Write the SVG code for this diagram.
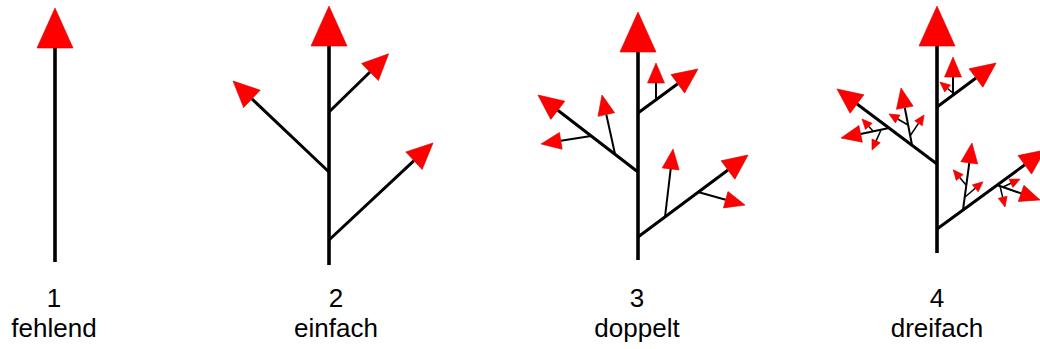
<svg xmlns="http://www.w3.org/2000/svg" width="1040" height="349" viewBox="0 0 1040 349">
<style>
line{stroke:#000;fill:none;stroke-linecap:butt}
.s0{stroke-width:3.6;marker-end:url(#h0)}
.a1{stroke-width:3;marker-end:url(#h1a)}
.b1{stroke-width:3;marker-end:url(#h1)}
.b2{stroke-width:2;marker-end:url(#h2)}
.b3{stroke-width:1.5;marker-end:url(#h3)}
.hd{fill:#ff0000;stroke:#d80000;stroke-width:0.6;stroke-linejoin:miter}
text{font-family:"Liberation Sans",Arial,sans-serif;font-size:26px;fill:#000;text-anchor:middle}
</style>
<defs>
<marker id="h0" markerUnits="userSpaceOnUse" orient="auto" overflow="visible" refX="0" refY="0" markerWidth="1" markerHeight="1"><path class="hd" d="M0,-18 L40,0 L0,18 Z"/></marker>
<marker id="h1a" markerUnits="userSpaceOnUse" orient="auto" overflow="visible" refX="0" refY="0" markerWidth="1" markerHeight="1"><path class="hd" d="M0,-12 L26,0 L0,12 Z"/></marker>
<marker id="h1" markerUnits="userSpaceOnUse" orient="auto" overflow="visible" refX="0" refY="0" markerWidth="1" markerHeight="1"><path class="hd" d="M0,-11.5 L25,0 L0,11.5 Z"/></marker>
<marker id="h2" markerUnits="userSpaceOnUse" orient="auto" overflow="visible" refX="0" refY="0" markerWidth="1" markerHeight="1"><path class="hd" d="M0,-8.5 L20,0 L0,8.5 Z"/></marker>
<marker id="h3" markerUnits="userSpaceOnUse" orient="auto" overflow="visible" refX="0" refY="0" markerWidth="1" markerHeight="1"><path class="hd" d="M0,-4.5 L10,0 L0,4.5 Z"/></marker>
</defs>
<g id="connectors">
<g id="tree1">
<line class="s0" x1="55" y1="262" x2="55" y2="48"/>
</g>
<g id="tree2">
<line class="s0" x1="329" y1="265" x2="329" y2="46"/>
<line class="a1" x1="329" y1="172" x2="251.9" y2="98.9"/>
<line class="a1" x1="329" y1="112" x2="370" y2="72"/>
<line class="a1" x1="329" y1="240" x2="414" y2="160.7"/>
</g>
<g id="tree3">
<line class="s0" x1="638" y1="260" x2="638" y2="52"/>
<line class="b1" x1="638" y1="113" x2="677.8" y2="83.8"/>
<line class="b1" x1="638" y1="172" x2="557.8" y2="110.3"/>
<line class="b1" x1="638" y1="237" x2="728" y2="170"/>
<line class="b2" x1="656" y1="100" x2="656" y2="83"/>
<line class="b2" x1="591" y1="136" x2="560.8" y2="140.8"/>
<line class="b2" x1="615" y1="154" x2="606.3" y2="114.5"/>
<line class="b2" x1="665" y1="217" x2="670.7" y2="168.9"/>
<line class="b2" x1="698" y1="192" x2="725.7" y2="199.7"/>
</g>
<g id="tree4">
<line class="s0" x1="937" y1="253" x2="937" y2="46"/>
<line class="b1" x1="937" y1="107" x2="976" y2="78"/>
<line class="b1" x1="937" y1="164" x2="857" y2="104"/>
<line class="b1" x1="937" y1="229" x2="1024.8" y2="164.8"/>
<line class="b2" x1="953" y1="95" x2="953" y2="77"/>
<line class="b2" x1="912" y1="145" x2="904.8" y2="107.7"/>
<line class="b2" x1="889" y1="128" x2="860.6" y2="133.9"/>
<line class="b2" x1="963" y1="210" x2="969.3" y2="162.8"/>
<line class="b2" x1="997" y1="185" x2="1021.1" y2="193.4"/>
<line class="b3" x1="953" y1="93" x2="947.6" y2="88.5"/>
<line class="b3" x1="908" y1="125" x2="897.7" y2="119"/>
<line class="b3" x1="910" y1="136" x2="918.5" y2="123.3"/>
<line class="b3" x1="873" y1="131" x2="868.8" y2="126.4"/>
<line class="b3" x1="881" y1="130" x2="876.1" y2="140.9"/>
<line class="b3" x1="966" y1="185" x2="959.7" y2="177.5"/>
<line class="b3" x1="965" y1="197" x2="975.3" y2="188.3"/>
<line class="b3" x1="1003" y1="187" x2="1011" y2="183.3"/>
<line class="b3" x1="1000" y1="186" x2="1002.7" y2="197.3"/>
</g>
</g>
<g id="label1"><text x="54" y="307">1</text><text x="54" y="337">fehlend</text></g>
<g id="label2"><text x="336" y="307">2</text><text x="336" y="337">einfach</text></g>
<g id="label3"><text x="637" y="307">3</text><text x="637" y="337">doppelt</text></g>
<g id="label4"><text x="937" y="307">4</text><text x="937" y="337">dreifach</text></g>
</svg>
